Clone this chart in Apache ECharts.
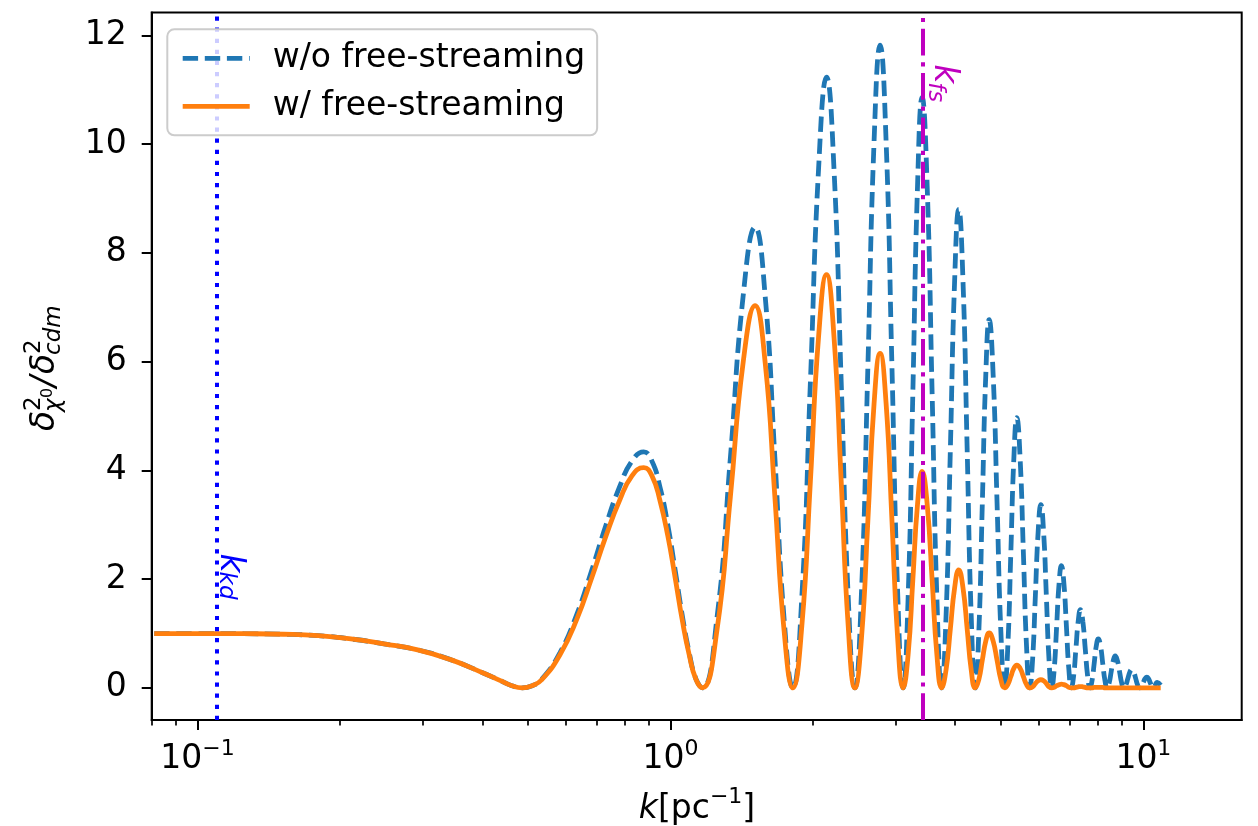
<!DOCTYPE html>
<html><head><meta charset="utf-8">
<script src="https://cdn.jsdelivr.net/npm/echarts@6/dist/echarts.min.js"></script>
<style>html,body{margin:0;padding:0;background:#fff}#c{width:1258px;height:826px}</style>
</head><body><div id="c"></div>
<script>
// ---- data ----
const kValues = [
  0.081, 0.1, 0.125, 0.152, 0.18, 0.211, 0.248, 0.292, 0.343, 0.403, 0.437, 0.462,
  0.486,
  0.51, 0.535, 0.584, 0.633, 0.682, 0.731, 0.780, 0.829, 0.878, 0.914, 0.9505, 0.987, 1.023, 1.059, 1.0955, 1.132, 1.168,
  1.2535, 1.339, 1.4245, 1.51, 1.586, 1.6625, 1.739, 1.815,
  1.896, 1.9765, 2.057, 2.138, 2.217, 2.2965, 2.376, 2.455,
  2.535, 2.615, 2.695, 2.775, 2.8575, 2.94, 3.0225, 3.105,
  3.18, 3.255, 3.33, 3.405, 3.49, 3.575, 3.66, 3.745,
  3.826, 3.9075, 3.989, 4.07, 4.155, 4.24, 4.325, 4.41,
  4.4875, 4.565, 4.6425, 4.72, 4.8125, 4.905, 4.9975, 5.09,
  5.1675, 5.245, 5.3225, 5.40, 5.4875, 5.575, 5.6625, 5.75,
  5.83, 5.91, 5.99, 6.07, 6.1525, 6.235, 6.3175, 6.40,
  6.4775, 6.555, 6.6325, 6.71, 6.7925, 6.875, 6.9575, 7.04,
  7.12, 7.2, 7.28, 7.36, 7.4475, 7.535, 7.6225, 7.71,
  7.79, 7.87, 7.95, 8.03, 8.1175, 8.205, 8.2925, 8.38,
  8.465, 8.55, 8.635, 8.72, 8.8125, 8.905, 8.9975, 9.09,
  9.18, 9.27, 9.36, 9.45, 9.5425, 9.635, 9.7275, 9.82,
  9.9075, 9.995, 10.0825, 10.17, 10.2525, 10.335, 10.4175, 10.5,
  10.7, 10.88
];
const withoutFreeStreaming = [
  1.0, 1.0, 0.997, 0.987, 0.96, 0.9, 0.81, 0.7, 0.52, 0.27, 0.135, 0.04,
  0,
  0.04, 0.165, 0.65, 1.34, 2.17, 3.0, 3.69, 4.17, 4.34, 4.17, 3.69, 3.0, 2.17, 1.34, 0.65, 0.165, 0,
  1.27, 4.24, 7.2, 8.47, 7.2, 4.24, 1.27, 0,
  1.68, 5.62, 9.55, 11.23, 9.55, 5.62, 1.68, 0,
  1.77, 5.91, 10.05, 11.82, 10.05, 5.91, 1.77, 0,
  1.63, 5.43, 9.23, 10.86, 9.23, 5.43, 1.63, 0,
  1.32, 4.4, 7.48, 8.8, 7.48, 4.4, 1.32, 0,
  1.02, 3.39, 5.75, 6.77, 5.75, 3.39, 1.02, 0,
  0.75, 2.49, 4.22, 4.97, 4.22, 2.49, 0.75, 0,
  0.51, 1.69, 2.86, 3.37, 2.86, 1.69, 0.51, 0,
  0.34, 1.13, 1.91, 2.25, 1.91, 1.13, 0.34, 0,
  0.22, 0.72, 1.22, 1.44, 1.22, 0.72, 0.22, 0,
  0.14, 0.45, 0.77, 0.9, 0.77, 0.45, 0.14, 0,
  0.09, 0.3, 0.5, 0.59, 0.5, 0.3, 0.09, 0,
  0.05, 0.17, 0.29, 0.34, 0.29, 0.17, 0.05, 0,
  0.03, 0.1, 0.17, 0.2, 0.17, 0.1, 0.03, 0,
  0.1, 0.05
];
const withFreeStreaming = [
  1.0, 1.0, 0.997, 0.987, 0.96, 0.9, 0.81, 0.7, 0.52, 0.27, 0.135, 0.04,
  0,
  0.04, 0.155, 0.61, 1.25, 2.03, 2.8, 3.44, 3.9, 4.05, 3.9, 3.44, 2.8, 2.03, 1.25, 0.61, 0.155, 0,
  1.05, 3.52, 5.98, 7.03, 5.98, 3.52, 1.05, 0,
  1.14, 3.8, 6.46, 7.6, 6.46, 3.8, 1.14, 0,
  0.92, 3.08, 5.23, 6.15, 5.23, 3.08, 0.92, 0,
  0.6, 1.99, 3.38, 3.98, 3.38, 1.99, 0.6, 0,
  0.33, 1.09, 1.84, 2.17, 1.84, 1.09, 0.33, 0,
  0.15, 0.51, 0.86, 1.01, 0.86, 0.51, 0.15, 0,
  0.06, 0.21, 0.36, 0.42, 0.36, 0.21, 0.06, 0,
  0.02, 0.08, 0.13, 0.15, 0.13, 0.08, 0.02, 0,
  0.01, 0.04, 0.06, 0.07, 0.06, 0.04, 0.01, 0,
  0, 0.01, 0.02, 0.025, 0.02, 0.01, 0, 0,
  0, 0.01, 0.01, 0.01, 0.01, 0.01, 0, 0,
  0, 0, 0, 0, 0, 0, 0, 0,
  0, 0, 0, 0, 0, 0, 0, 0,
  0, 0, 0, 0, 0, 0, 0, 0,
  0, 0
];
const seriesNames = ['w/o free-streaming', 'w/ free-streaming'];
const kKd = 0.1076;       // k_kd vertical line
const kFs = 3.41;         // k_fs vertical line
const kdLabelY = 2.47;
const fsLabelY = 11.47;
const xMajorTicks = [0.1, 1, 10];
const xMinorTicks = [0.08, 0.09, 0.2, 0.3, 0.4, 0.5, 0.6, 0.7, 0.8, 0.9, 2, 3, 4, 5, 6, 7, 8, 9];
const yTicks = [0, 2, 4, 6, 8, 10, 12];

// ---- chart ----
const FONT = 'DejaVu Sans';
const BLUE = '#1f77b4', ORANGE = '#ff7f0e', KD_COLOR = '#0000ff', FS_COLOR = '#bf00bf';
const LW = 4.8;
const BLUE_DASH = [15.4, 6.7];
const chart = echarts.init(document.getElementById('c'), null, {renderer: 'canvas'});
const pairs = arr => kValues.map((k, i) => [k, arr[i]]);
const expLabel = v => {
  const e = Math.round(Math.log10(v));
  return '{b|10}{s|' + (e < 0 ? '\u2212' + (-e) : String(e)) + '}';
};
const X_MIN = 0.0800, X_MAX = 16.14;

chart.setOption({
  animation: false,
  backgroundColor: '#ffffff',
  grid: {left: 151.7, right: 16.3, top: 12.5, bottom: 106, show: true,
         borderColor: '#000', borderWidth: 2, backgroundColor: 'transparent'},
  legend: {
    orient: 'vertical', left: 167.3, top: 29.3, z: 20,
    data: [
      {name: seriesNames[0], itemStyle: {opacity: 0}, lineStyle: {color: BLUE, width: LW, type: BLUE_DASH}},
      {name: seriesNames[1], itemStyle: {opacity: 0}, lineStyle: {color: ORANGE, width: LW, type: 'solid'}}
    ],
    itemWidth: 67, itemHeight: 14, itemGap: 14,
    padding: [12, 12, 12, 13],
    backgroundColor: 'rgba(255,255,255,0.8)', borderColor: '#cccccc', borderWidth: 2, borderRadius: 7,
    textStyle: {fontFamily: FONT, fontSize: 33, color: '#000', lineHeight: 34, padding: [0, 0, 0, 18]}
  },
  xAxis: [{
    type: 'log', logBase: 10, min: X_MIN, max: X_MAX,
    axisLine: {show: true, onZero: false, lineStyle: {color: '#000', width: 2}},
    splitLine: {show: false}, minorTick: {show: false}, minorSplitLine: {show: false},
    axisTick: {show: true, inside: false, length: 10, lineStyle: {color: '#000', width: 2}, customValues: xMajorTicks},
    axisLabel: {customValues: xMajorTicks, formatter: expLabel, margin: 18, color: '#000',
      rich: {
        b: {fontFamily: FONT, fontSize: 33, color: '#000', lineHeight: 38, verticalAlign: 'bottom'},
        s: {fontFamily: FONT, fontSize: 22, color: '#000', lineHeight: 22, verticalAlign: 'top'}
      }}
  }, {
    type: 'log', logBase: 10, min: X_MIN, max: X_MAX, gridIndex: 0, position: 'bottom',
    axisLine: {show: false, onZero: false}, splitLine: {show: false}, axisLabel: {show: false},
    axisTick: {show: true, inside: false, length: 5.6, lineStyle: {color: '#000', width: 1.7}, customValues: xMinorTicks}
  }],
  yAxis: {
    type: 'value', min: -0.59, max: 12.42,
    axisLine: {show: true, onZero: false, lineStyle: {color: '#000', width: 2}},
    splitLine: {show: false},
    axisTick: {show: true, inside: false, length: 10, lineStyle: {color: '#000', width: 2}, customValues: yTicks},
    axisLabel: {customValues: yTicks, margin: 25, fontFamily: FONT, fontSize: 33, color: '#000'}
  },
  series: [
    {name: seriesNames[0], type: 'line', data: pairs(withoutFreeStreaming), symbol: 'none', showSymbol: false,
     smooth: 0.5, z: 2, clip: true,
     lineStyle: {color: BLUE, width: LW, type: BLUE_DASH, cap: 'butt'}, itemStyle: {color: BLUE}},
    {name: 'vlines', type: 'line', data: [], z: 3, symbol: 'none',
     markLine: {silent: true, symbol: ['none', 'none'], label: {show: false}, animation: false,
       data: [
         {xAxis: kKd, lineStyle: {color: KD_COLOR, width: 4, type: [4.2, 6.9], cap: 'butt'}},
         {xAxis: kFs, lineStyle: {color: FS_COLOR, width: 4, type: [26.7, 6.7, 4.2, 6.7], cap: 'butt'}}
       ]}},
    {name: seriesNames[1], type: 'line', data: pairs(withFreeStreaming), symbol: 'none', showSymbol: false,
     smooth: 0.5, z: 4, clip: true,
     lineStyle: {color: ORANGE, width: LW, type: 'solid'}, itemStyle: {color: ORANGE}}
  ]
});

// ---- text annotations ----
function rotLabel(k, y, main, sub, color, mainOff, subOff, subStart, dx) {
  const p = chart.convertToPixel({xAxisIndex: 0, yAxisIndex: 0}, [k, y]);
  return {type: 'group', x: p[0] + dx, y: p[1], rotation: -Math.PI / 2, z: 50, silent: true, children: [
    {type: 'text', style: {text: main, x: 0, y: -mainOff, font: 'italic 33px "DejaVu Sans"', fill: color, align: 'left', verticalAlign: 'middle'}},
    {type: 'text', style: {text: sub, x: subStart, y: -subOff, font: 'italic 23px "DejaVu Sans"', fill: color, align: 'left', verticalAlign: 'middle'}}
  ]};
}
const t = (text, x, y, size, italic) => ({type: 'text', style: {text, x, y,
  font: (italic ? 'italic ' : '') + size + 'px "DejaVu Sans"', fill: '#000', align: 'left', verticalAlign: 'middle'}});

chart.setOption({graphic: [
  rotLabel(kKd, kdLabelY, 'k', 'kd', KD_COLOR, 17, 13, 18, 0),
  rotLabel(kFs, fsLabelY, 'k', 'fs', FS_COLOR, 21, 13, 18, 0),
  // x axis title
  {type: 'text', x: 697, y: 806, z: 50, silent: true, style: {
    text: '{i|k}{n|[pc}{s|\u22121}{n|]}', align: 'center', verticalAlign: 'middle',
    rich: {
      i: {fontFamily: FONT, fontStyle: 'italic', fontSize: 33, lineHeight: 40, verticalAlign: 'bottom', fill: '#000'},
      n: {fontFamily: FONT, fontSize: 33, lineHeight: 40, verticalAlign: 'bottom', fill: '#000'},
      s: {fontFamily: FONT, fontSize: 22, lineHeight: 22, verticalAlign: 'top', fill: '#000'}
    }}},
  // y axis title (rotated)
  {type: 'group', x: 45, y: 366, rotation: Math.PI / 2, z: 50, silent: true, children: [
    t('\u03b4', -65, 0, 33, true),
    t('2', -45, -11, 23, false),
    t('\u03c7', -46, 9, 23, true),
    t('0', -32, 3, 16, false),
    t('/', -21, 0, 33, true),
    t('\u03b4', -8, 0, 33, true),
    t('2', 12, -11, 23, false),
    t('cdm', 11, 9, 23, true)
  ]}
]});
</script>
</body></html>
